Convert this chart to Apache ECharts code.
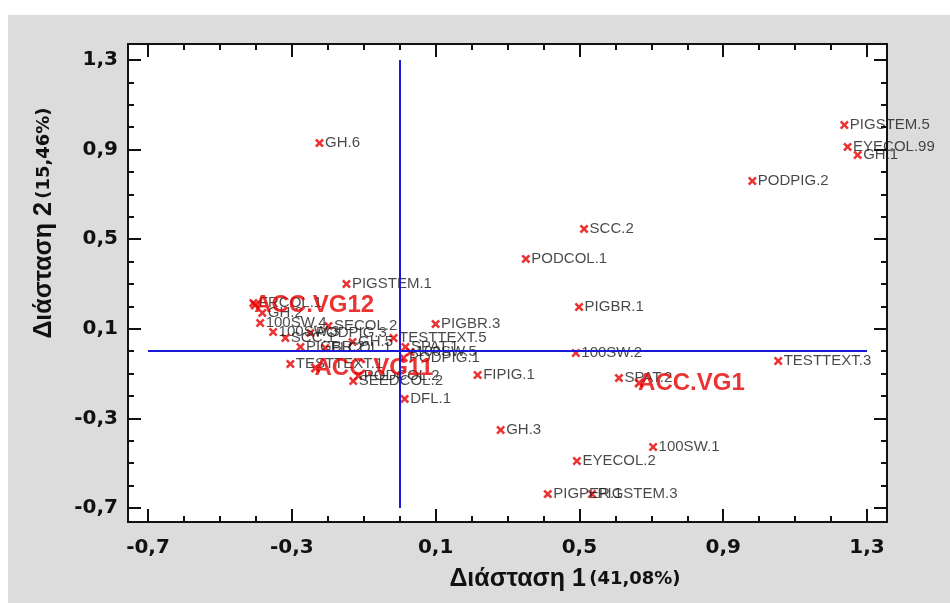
<!DOCTYPE html>
<html>
<head>
<meta charset="utf-8">
<script src="https://cdn.jsdelivr.net/npm/echarts@6/dist/echarts.min.js"></script>
<style>
html, body {margin: 0; padding: 0; background: #fff;}
#main {width: 950px; height: 603px;}
</style>
</head>
<body>
<div id="main"></div>
<script>
// variables (points) - coordinates on dimension 1 / dimension 2
const names = ['GH.6', 'PIGSTEM.5', 'EYECOL.99', 'GH.1', 'PODPIG.2', 'SCC.2', 'PODCOL.1', 'PIGSTEM.1',
    'PIGBR.1', 'PIGBR.3', '100SW.2', 'TESTTEXT.3', 'SPAT.2', 'FIPIG.1', 'DFL.1', 'GH.3', '100SW.1',
    'EYECOL.2', 'PIGPER.1', 'PIGSTEM.3', 'TESTTEXT.5', 'FRCOL.1', 'GH.2', '100SW.4', 'SECOL.2',
    '100SW.3', 'SCC.1', 'PODPIG.3', 'GH.5', 'PIGBR.2', 'FLCOL.1', 'TESTTEXT.1', 'PODPIG.1',
    'SEEDCOL.2', 'PODCOL.2', 'SPAT.1', '100SW.5'];
const dim1 = [-0.223, 1.237, 1.246, 1.274, 0.981, 0.513, 0.351, -0.148,
    0.499, 0.100, 0.490, 1.053, 0.610, 0.217, 0.014, 0.281, 0.705,
    0.493, 0.412, 0.535, -0.017, -0.407, -0.382, -0.388, -0.198,
    -0.352, -0.318, -0.248, -0.131, -0.276, -0.207, -0.304, 0.011,
    -0.129, -0.115, 0.016, 0.030];
const dim2 = [0.929, 1.010, 0.912, 0.876, 0.760, 0.546, 0.412, 0.300,
    0.197, 0.121, -0.008, -0.044, -0.120, -0.106, -0.213, -0.352, -0.428,
    -0.490, -0.638, -0.638, 0.059, 0.215, 0.171, 0.126, 0.112,
    0.086, 0.059, 0.081, 0.041, 0.019, 0.014, -0.057, -0.030,
    -0.133, -0.111, 0.019, -0.004];

// group centroids
const groupNames = ['ACC.VG12', 'ACC.VG11', 'ACC.VG1'];
const groupDim1 = [-0.402, -0.234, 0.666];
const groupDim2 = [0.206, -0.075, -0.142];

// axis ticks
const axisMin = -0.7;
const axisMax = 1.3;
const axisStep = 0.4;

const RED = '#e60000';
const CROSS = 'path://M2,0L5,3L8,0L10,2L7,5L10,8L8,10L5,7L2,10L0,8L3,5L0,2Z';

function fmt(v) {
    return v.toFixed(1).replace('.', ',');
}

function pts(n, a, b) {
    return n.map(function (name, i) {
        return {name: name, value: [a[i], b[i]]};
    });
}

let myChart = echarts.init(document.getElementById('main'));

function axisCommon(pos, offset, showLabel) {
    return {
        type: 'value',
        position: pos,
        offset: offset,
        min: axisMin,
        max: axisMax,
        interval: axisStep,
        axisLine: {show: false, onZero: false},
        splitLine: {show: false},
        axisTick: {show: true, inside: true, length: 13, lineStyle: {color: '#111', width: 2}},
        minorTick: {show: true, splitNumber: 4, length: 6, lineStyle: {color: '#111', width: 2}},
        axisLabel: {
            show: showLabel,
            formatter: fmt,
            fontFamily: 'DejaVu Sans',
            fontWeight: 'bold',
            fontSize: 20,
            color: '#111',
            margin: pos === 'bottom' ? 16 : 10
        }
    };
}

let option = {
    animation: false,
    backgroundColor: '#fff',
    grid: {left: 148, right: 83, top: 60, bottom: 95},
    xAxis: [axisCommon('bottom', 14, true), axisCommon('top', 16, false)],
    yAxis: [axisCommon('left', 20, true), axisCommon('right', 20, false)],
    graphic: [
        {type: 'rect', z: -20, shape: {x: 8, y: 15, width: 942, height: 588}, style: {fill: '#dcdcdc'}},
        {type: 'rect', z: -10, shape: {x: 128, y: 44, width: 759, height: 478},
            style: {fill: '#fff', stroke: '#111', lineWidth: 2}},
        {
            type: 'text', x: 565, y: 579, z: 10,
            style: {
                text: '{a|Διάσταση 1} {b|(41,08%)}',
                align: 'center', verticalAlign: 'middle',
                rich: {
                    a: {fontFamily: 'Liberation Sans', fontWeight: 'bold', fontSize: 25, fill: '#111'},
                    b: {fontFamily: 'DejaVu Sans', fontWeight: 'bold', fontSize: 18, fill: '#111'}
                }
            }
        },
        {
            type: 'text', x: 44, y: 223, z: 10, rotation: Math.PI / 2,
            style: {
                text: '{a|Διάσταση 2} {b|(15,46%)}',
                align: 'center', verticalAlign: 'middle',
                rich: {
                    a: {fontFamily: 'Liberation Sans', fontWeight: 'bold', fontSize: 25, fill: '#111'},
                    b: {fontFamily: 'DejaVu Sans', fontWeight: 'bold', fontSize: 18, fill: '#111'}
                }
            }
        }
    ],
    series: [
        {
            type: 'scatter',
            symbol: CROSS,
            symbolSize: 9,
            itemStyle: {color: RED},
            data: pts(names, dim1, dim2),
            label: {
                show: true,
                position: 'right',
                distance: 1,
                formatter: '{b}',
                fontFamily: 'Liberation Sans',
                fontSize: 15,
                color: '#1a1a1a'
            },
            markLine: {
                silent: true,
                symbol: 'none',
                label: {show: false},
                lineStyle: {color: '#1a1ad6', width: 2, type: 'solid'},
                data: [{xAxis: 0}, {yAxis: 0}]
            }
        },
        {
            type: 'scatter',
            symbol: CROSS,
            symbolSize: 10,
            itemStyle: {color: RED},
            data: pts(groupNames, groupDim1, groupDim2),
            z: 3,
            label: {
                show: true,
                position: 'right',
                distance: -6,
                formatter: '{b}',
                fontFamily: 'Liberation Sans',
                fontWeight: 'bold',
                fontSize: 24,
                color: RED
            }
        }
    ]
};

myChart.setOption(option);
</script>
</body>
</html>
